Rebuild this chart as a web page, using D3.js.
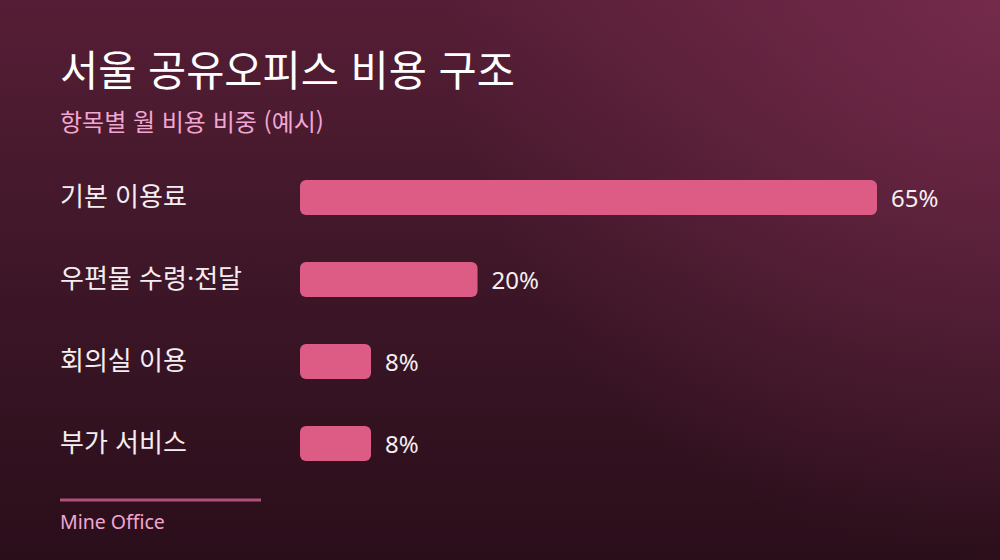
<!DOCTYPE html>
<html lang="ko">
<head>
<meta charset="UTF-8">
<title>서울 공유오피스 비용 구조</title>
<script src="https://d3js.org/d3.v7.min.js"></script>
<style>
  html, body { margin: 0; padding: 0; background: #2a0e1a; }
  svg { display: block; font-family: "Noto Sans CJK KR", "Noto Sans", sans-serif; }
</style>
</head>
<body>
<div id="chart"></div>
<script>
  const categories = ["기본 이용료", "우편물 수령·전달", "회의실 이용", "부가 서비스"];
  const shares = [65, 20, 8, 8];
  const valueLabels = ["65%", "20%", "8%", "8%"];

  const width = 1000, height = 560;
  const rows = categories.map((c, i) => ({ cat: c, val: shares[i], lab: valueLabels[i] }));

  const svg = d3.select("#chart").append("svg")
      .attr("width", width)
      .attr("height", height);

  // fond : dégradé vertical + lueur en haut à droite
  const defs = svg.append("defs");
  const grad = defs.append("linearGradient")
      .attr("id", "bg")
      .attr("x1", "0%").attr("y1", "0%")
      .attr("x2", "0%").attr("y2", "100%");
  grad.append("stop").attr("offset", "0%").attr("stop-color", "#561e36");
  grad.append("stop").attr("offset", "50%").attr("stop-color", "#3d1627");
  grad.append("stop").attr("offset", "100%").attr("stop-color", "#2a0e1a");
  const glow = defs.append("radialGradient")
      .attr("id", "glow")
      .attr("gradientUnits", "userSpaceOnUse")
      .attr("cx", 1000).attr("cy", 0).attr("r", 560);
  glow.append("stop").attr("offset", "0%").attr("stop-color", "#7e2e52").attr("stop-opacity", 0.75);
  glow.append("stop").attr("offset", "100%").attr("stop-color", "#7e2e52").attr("stop-opacity", 0);
  svg.append("rect").attr("width", width).attr("height", height).attr("fill", "url(#bg)");
  svg.append("rect").attr("width", width).attr("height", height).attr("fill", "url(#glow)");

  svg.append("text")
      .attr("x", 60).attr("y", 86)
      .attr("fill", "#ffffff")
      .attr("font-size", 41.5)
      .attr("font-weight", 400)
      .text("서울 공유오피스 비용 구조");

  svg.append("text")
      .attr("x", 60).attr("y", 131)
      .attr("fill", "#f2a6d2")
      .attr("font-size", 24)
      .text("항목별 월 비용 비중 (예시)");

  const x = d3.scaleLinear().domain([0, d3.max(shares)]).range([300, 877]);
  const y = d3.scaleBand().domain(categories).range([180, 461]).paddingInner(0.573).paddingOuter(0);

  const g = svg.append("g");

  g.selectAll("text.cat").data(rows).enter().append("text")
      .attr("class", "cat")
      .attr("x", 60)
      .attr("y", d => y(d.cat) + y.bandwidth() / 2 - 3)
      .attr("dominant-baseline", "central")
      .attr("fill", "#f4eef1")
      .attr("font-size", 26)
      .text(d => d.cat);

  g.selectAll("rect.bar").data(rows).enter().append("rect")
      .attr("class", "bar")
      .attr("x", x(0))
      .attr("y", d => y(d.cat))
      .attr("width", d => x(d.val) - x(0))
      .attr("height", y.bandwidth())
      .attr("rx", 6)
      .attr("fill", "#dd5c86");

  g.selectAll("text.val").data(rows).enter().append("text")
      .attr("class", "val")
      .attr("x", d => x(d.val) + 14)
      .attr("y", d => y(d.cat) + y.bandwidth() / 2)
      .attr("dominant-baseline", "central")
      .attr("fill", "#f4eef1")
      .attr("font-size", 24)
      .attr("font-family", "'Noto Sans', sans-serif")
      .text(d => d.lab);

  svg.append("line")
      .attr("x1", 60).attr("x2", 261)
      .attr("y1", 500).attr("y2", 500)
      .attr("stroke", "#b2507c")
      .attr("stroke-width", 3);

  svg.append("text")
      .attr("x", 60).attr("y", 529)
      .attr("fill", "#f2a6d2")
      .attr("font-size", 19.5)
      .attr("font-family", "'Noto Sans', sans-serif")
      .text("Mine Office");
</script>
</body>
</html>
